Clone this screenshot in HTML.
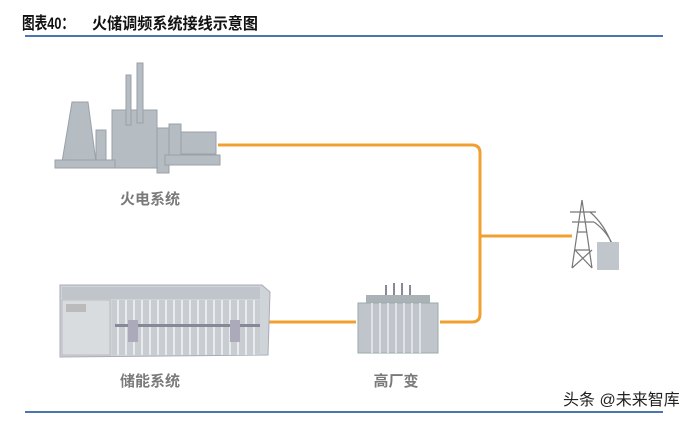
<!DOCTYPE html>
<html><head><meta charset="utf-8"><style>
body{margin:0;background:#fff}
svg{display:block}
text{font-family:"Liberation Sans","Noto Sans CJK SC",sans-serif}
</style></head><body>
<svg width="700" height="421" viewBox="0 0 700 421">
<text x="22" y="29" font-size="17" font-weight="bold" fill="#111" textLength="52" lengthAdjust="spacingAndGlyphs">图表40：</text>
<text x="92" y="29" font-size="16" font-weight="bold" fill="#111" textLength="166" lengthAdjust="spacingAndGlyphs">火储调频系统接线示意图</text>
<rect x="25" y="35" width="638" height="2" fill="#4a76b0"/>
<rect x="25" y="411" width="638" height="2" fill="#4a76b0"/>
<path d="M218 145 H472 Q480 145 480 153 V314 Q480 322 472 322 H440" fill="none" stroke="#f0a030" stroke-width="3"/>
<path d="M480 236 H572" stroke="#f0a030" stroke-width="3"/>
<path d="M268 322 H356" stroke="#f0a030" stroke-width="3"/>
<g fill="#b5bcc2" stroke="#9aa1a8" stroke-width="1">
<path d="M62 162 L72 102 L88 102 L96 162Z"/>
<rect x="96" y="130" width="10" height="32"/>
<rect x="112" y="110" width="45" height="58"/>
<rect x="126" y="75" width="5" height="50"/>
<rect x="137" y="63" width="6" height="60"/>
<rect x="157" y="128" width="12" height="45"/>
<rect x="169" y="124" width="12" height="40"/>
<rect x="181" y="132" width="35" height="22"/>
<rect x="165" y="155" width="55" height="10"/>
<rect x="55" y="160" width="60" height="8"/>
</g>
<text x="150" y="204" font-size="15" font-weight="bold" fill="#7a7a7a" text-anchor="middle">火电系统</text>
<g stroke="#777" stroke-width="1.2" fill="none">
<path d="M582 200 L572 268 M582 200 L592 268 M575 250 L589 250 M577 232 L587 232 M572 268 L592 250 M592 268 L575 250 M570 212 L596 212 M572 222 L594 222"/>
<path d="M590 212 Q605 225 612 245 M594 222 Q608 232 614 248"/>
</g>
<rect x="597" y="242" width="22" height="28" fill="#c0c6cb"/>
<g>
<path d="M60 285 L262 285 L270 292 L268 355 L60 357Z" fill="#cfd4d8" stroke="#aab" />
<rect x="62" y="287" width="198" height="12" fill="#bfc5ca"/>
<rect x="62" y="300" width="48" height="55" fill="#d8dcdf" stroke="#bbb"/>
<rect x="66" y="304" width="20" height="8" fill="#bbb"/>
<rect x="112" y="300" width="148" height="55" fill="#c8cdd1"/>
<g stroke="#e8eaec" stroke-width="2">
<path d="M118 300V355M126 300V355M134 300V355M142 300V355M150 300V355M158 300V355M166 300V355M174 300V355M182 300V355M190 300V355M198 300V355M206 300V355M214 300V355M222 300V355M230 300V355M238 300V355M246 300V355M254 300V355"/>
</g>
<rect x="115" y="324" width="145" height="3" fill="#889"/>
<rect x="128" y="320" width="10" height="22" fill="#aab"/>
<rect x="230" y="320" width="10" height="22" fill="#aab"/>
</g>
<text x="150" y="386" font-size="15" font-weight="bold" fill="#7a7a7a" text-anchor="middle">储能系统</text>
<g>
<rect x="366" y="295" width="64" height="8" fill="#aab2b8"/>
<rect x="358" y="303" width="80" height="50" fill="#bfc5ca" stroke="#9aa"/>
<g stroke="#e0e3e5" stroke-width="2"><path d="M372 303V353M380 303V353M388 303V353M396 303V353M404 303V353M412 303V353M420 303V353"/></g>
<g stroke="#889" stroke-width="2"><path d="M386 295V285M394 295V283M402 295V283M410 295V285"/></g>
</g>
<text x="396" y="386" font-size="15" font-weight="bold" fill="#7a7a7a" text-anchor="middle">高厂变</text>
<text x="563" y="405" font-size="16" fill="#222">头条 @未来智库</text>
</svg>
</body></html>
